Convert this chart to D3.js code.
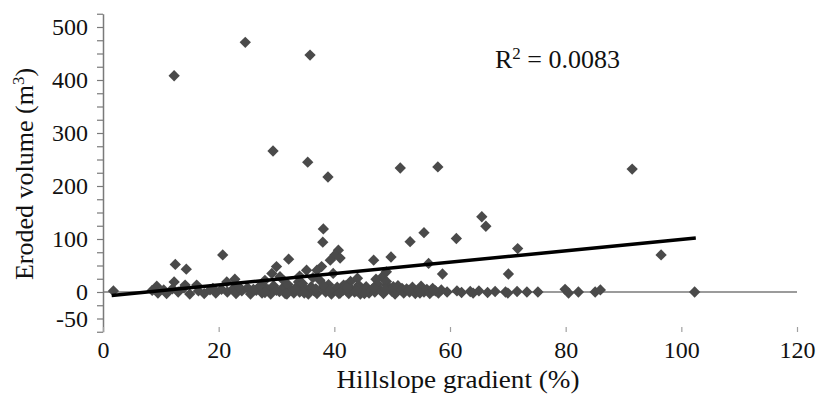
<!DOCTYPE html>
<html>
<head>
<meta charset="utf-8">
<script src="https://cdn.jsdelivr.net/npm/d3@7"></script>
<style>
  body { margin: 0; background: #fff; }
  svg { display: block; font-family: "Liberation Serif", "Times New Roman", serif; }
</style>
</head>
<body>
<div id="chart"></div>
<script>
// Hillslope gradient (%) and eroded volume (m3).
const gradient = [
  12.3, 24.6, 35.8, 29.4, 35.4, 38.9, 51.4, 57.9, 91.5, 65.5, 66.2, 96.5, 71.7, 61.1, 55.5, 53.1,
  49.8, 46.8, 38.1, 38.0, 40.7, 40.1, 41.0, 39.3, 37.8, 37.0, 32.1, 30.0, 29.2, 35.2, 20.7, 12.5,
  14.4, 12.3, 56.3, 58.7, 70.1, 48.2, 49.0,
  9.3, 14.2, 16.2, 21.4, 22.8, 27.5, 30.6, 33.8, 39.8, 41.6, 44.2, 49.0, 51.7, 31.2, 36.3, 42.8, 47.2,
  1.8, 8.5, 9.5, 10.5, 11.0, 12.0, 13.0, 14.0, 15.0, 16.5, 17.5, 18.5, 19.5, 20.5, 21.5, 22.5,
  23.0, 24.0, 25.0, 25.5, 26.5, 27.0, 27.5, 28.5, 29.0, 29.5, 30.5, 31.0, 31.5, 32.0, 32.5, 33.0,
  33.5, 34.0, 34.5, 35.0, 35.5, 36.0, 36.5, 37.0, 37.5, 38.0, 38.5, 39.0, 39.5, 40.0, 40.5, 41.0,
  41.5, 42.0, 42.5, 43.0, 43.5, 44.0, 44.5, 45.0, 45.5, 46.0, 46.5, 47.0, 47.5, 48.0, 48.5, 49.0,
  49.5, 50.0, 50.5, 51.0, 51.5, 52.0, 52.5, 53.0, 53.5, 54.0, 54.5, 55.0, 55.5, 56.0, 56.5, 57.0,
  57.5, 58.0, 58.5, 59.5, 61.2, 62.0, 63.5, 64.0, 65.0, 66.5, 67.8, 69.6, 70.0, 71.6, 73.3, 75.2,
  79.9, 80.5, 82.2, 85.1, 86.0, 102.3,
  26.0, 28.0, 30.0, 31.8, 33.2, 34.8, 36.8, 38.2, 39.2, 40.8, 42.2, 43.8, 45.2, 46.8, 48.8, 50.2,
  52.8, 54.8, 57.2, 23.5, 19.0, 28.0, 34.0, 44.0
];
const volume = [
  408, 471, 447, 266, 245, 217, 234, 236, 232, 142, 124, 70, 82, 101, 112, 95,
  66, 60, 119, 94, 79, 70, 64, 60, 48, 41, 62, 48, 35, 41, 70, 52,
  43, 19, 54, 34, 34, 28, 38,
  11, 13, 13, 19, 24, 13, 29, 19, 35, 13, 13, 13, 7, 22, 27, 20, 24,
  2, 3, -2, 4, -3, 6, 0, 8, -4, 2, -3, 4, -2, 5, 0, 6,
  -3, 2, 8, -4, 3, 10, -2, 5, -4, 12, 1, 7, -3, 14, 4, -2,
  9, 0, 16, 5, -4, 10, 2, -3, 22, 7, 0, 14, -4, 4, 9, -2,
  3, 12, -3, 5, 0, 8, -4, 3, 10, -2, 5, 0, 15, 3, -3, 20,
  8, 1, -4, 12, 4, -2, 6, 0, 9, -3, 4, 11, 0, 5, -3, 7,
  2, -2, 4, 0, 2, -1, 1, -2, 2, -1, 1, 0, -2, 1, 0, 0,
  5, -2, 0, 0, 4, 0,
  5, -1, 3, -4, 6, -2, 6, 12, 3, -3, 7, 2, -3, 8, 5, 10,
  3, -2, 3, 10, 7, 22, 30, 26
];

const xTicks = [0, 20, 40, 60, 80, 100, 120];
const yLabelled = [500, 400, 300, 200, 100, 0, -50];

// linear trend drawn in the figure
const trendIntercept = -8;
const trendSlope = 1.07;
const trendRange = [1.5, 102.5];
const rSquared = '0.0083';

const width = 823;
const height = 399;

const svg = d3.select('#chart').append('svg')
  .attr('width', width)
  .attr('height', height);

const x = d3.scaleLinear().domain([0, 120]).range([103, 797]);
const y = d3.scaleLinear().domain([-75, 525]).range([331.75, 13.75]);

// y axis, minor ticks every 25
const yAxis = svg.append('g')
  .attr('transform', 'translate(' + x(0) + ',0)')
  .call(d3.axisLeft(y)
    .tickValues(d3.range(-75, 526, 25))
    .tickSize(6)
    .tickSizeOuter(0)
    .tickPadding(9)
    .tickFormat(d => yLabelled.includes(d) ? d : ''));
yAxis.attr('font-family', null);
yAxis.select('.domain').attr('stroke', '#7a7a7a').attr('stroke-width', 1.5);
yAxis.selectAll('.tick line').attr('stroke', '#7a7a7a').attr('stroke-width', 1.2);
yAxis.selectAll('.tick text').attr('font-size', 24).attr('fill', '#111');

// x axis: only tick marks and labels at the bottom
const xAxis = svg.append('g')
  .attr('transform', 'translate(0,327)')
  .call(d3.axisBottom(x).tickValues(xTicks).tickSize(5).tickSizeOuter(0));
xAxis.attr('font-family', null);
xAxis.select('.domain').remove();
xAxis.selectAll('.tick line').attr('stroke', '#a0a0a0').attr('stroke-width', 1.2);
xAxis.selectAll('.tick text')
  .attr('y', 31)
  .attr('dy', 0)
  .attr('font-size', 24)
  .attr('fill', '#111');

// horizontal line at zero
svg.append('line')
  .attr('x1', x(0)).attr('x2', x(120))
  .attr('y1', y(0)).attr('y2', y(0))
  .attr('stroke', '#7a7a7a')
  .attr('stroke-width', 1.5);

const diamond = d3.symbol(d3.symbolSquare, 64);
svg.append('g')
  .selectAll('path')
  .data(d3.range(gradient.length))
  .join('path')
  .attr('d', diamond)
  .attr('transform', i => 'translate(' + x(gradient[i]) + ',' + y(volume[i]) + ') rotate(45)')
  .attr('fill', '#4a4a4a');

const line = d3.line().x(d => x(d[0])).y(d => y(d[1]));
svg.append('path')
  .datum(trendRange.map(g => [g, trendIntercept + trendSlope * g]))
  .attr('d', line)
  .attr('fill', 'none')
  .attr('stroke', '#000')
  .attr('stroke-width', 3.5);

const r2 = svg.append('text')
  .attr('x', 495)
  .attr('y', 68)
  .attr('font-size', 26)
  .attr('fill', '#111');
r2.append('tspan').text('R');
r2.append('tspan').attr('font-size', 17).attr('dy', -9).text('2');
r2.append('tspan').attr('dy', 9).text(' = ' + rSquared);

svg.append('text')
  .attr('x', 458)
  .attr('y', 388)
  .attr('text-anchor', 'middle')
  .attr('font-size', 26)
  .attr('textLength', 243)
  .attr('lengthAdjust', 'spacingAndGlyphs')
  .attr('fill', '#111')
  .text('Hillslope gradient (%)');

const yTitle = svg.append('text')
  .attr('transform', 'translate(33,174) rotate(-90)')
  .attr('text-anchor', 'middle')
  .attr('font-size', 26)
  .attr('fill', '#111');
yTitle.append('tspan').text('Eroded volume (m');
yTitle.append('tspan').attr('font-size', 17).attr('dy', -9).text('3');
yTitle.append('tspan').attr('dy', 9).text(')');
</script>
</body>
</html>
